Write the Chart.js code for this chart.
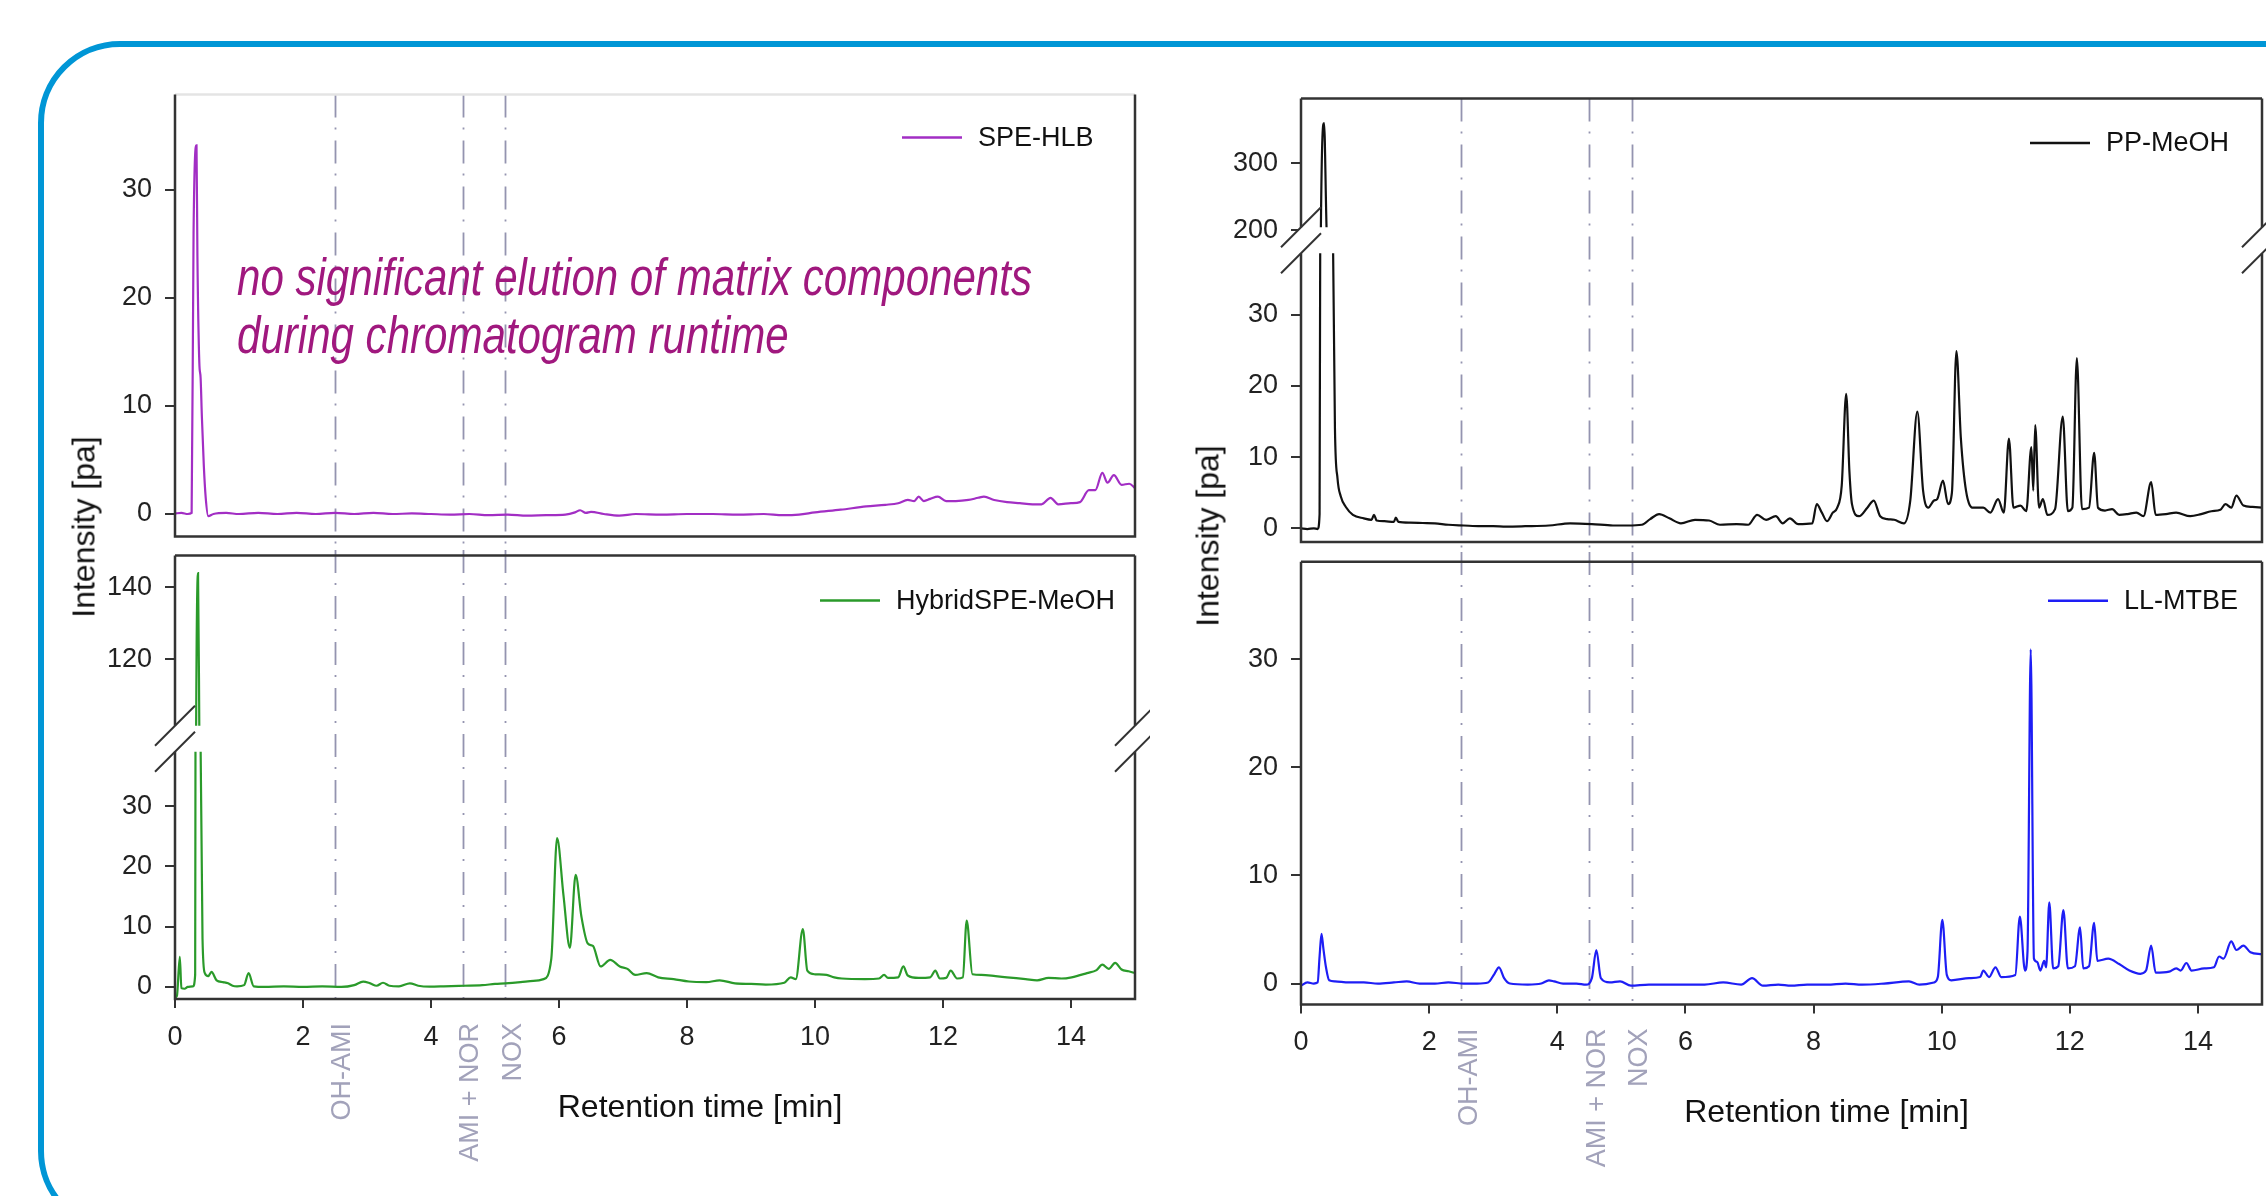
<!DOCTYPE html>
<html>
<head>
<meta charset="utf-8">
<script src="https://cdn.jsdelivr.net/npm/chart.js@4.4.1/dist/chart.umd.min.js"></script>
<style>
  html, body { margin: 0; padding: 0; background: #fff; }
  body { width: 2266px; height: 1196px; position: relative; overflow: hidden; font-family: "Liberation Sans", Arial, sans-serif; }
  .frame { position: absolute; left: 38px; top: 41px; width: 2420px; height: 1192px; box-sizing: border-box; border: 6px solid #0096d6; border-radius: 82px; }
  canvas { position: absolute; }
  .ytitle { position: absolute; font-size: 32px; color: #111; white-space: nowrap; transform: translate(-50%, -50%) rotate(-90deg); }
  #note { position: absolute; left: 237px; top: 249px; color: #a0187e; font-style: italic;
          font-family: "Liberation Sans Narrow", "Arial Narrow", "Liberation Sans", Arial, sans-serif;
          font-size: 51px; line-height: 58px; white-space: nowrap; transform-origin: 0 0; }
</style>
</head>
<body>
<div class="frame"></div>

<canvas id="hlbChart" width="1150" height="490" style="left:0;top:60px"></canvas>
<canvas id="hybridChart" width="1150" height="646" style="left:0;top:550px"></canvas>
<canvas id="ppChart" width="1116" height="492" style="left:1150px;top:60px"></canvas>
<canvas id="llChart" width="1116" height="644" style="left:1150px;top:552px"></canvas>

<div class="ytitle" style="left:84px;top:527px">Intensity [pa]</div>
<div class="ytitle" style="left:1208px;top:536px">Intensity [pa]</div>
<div id="note"><span id="noteLine1">no significant elution of matrix components</span><br>during chromatogram runtime</div>

<script>
const FONT = '"Liberation Sans", Arial, Helvetica, sans-serif';

// shared axis stuff
const xTicks = [0, 2, 4, 6, 8, 10, 12, 14];
const markerTimes = [2.5, 4.5, 5.16];
const markerNames = ['OH-AMI', 'AMI + NOR', 'NOX'];

// SPE-HLB (top left)
const hlbTime = [0, 0.1, 0.2, 0.26, 0.29, 0.336, 0.35, 0.38, 0.40, 0.42, 0.45, 0.48, 0.52, 0.6, 0.8, 1.0, 1.3, 1.6, 1.9, 2.2, 2.5, 2.8,
  3.1, 3.4, 3.7, 4.0, 4.3, 4.6, 4.9, 5.2, 5.5, 5.8, 6.1, 6.25, 6.33, 6.42, 6.5, 6.7, 6.94, 7.2, 7.6, 8.0, 8.4, 8.8, 9.2, 9.5, 9.75,
  10.0, 10.4, 10.8, 11.1, 11.3, 11.45, 11.55, 11.62, 11.7, 11.8, 11.92, 12.05, 12.2, 12.4, 12.55, 12.64, 12.8, 13.0, 13.2, 13.4,
  13.54, 13.68, 13.8, 14.0, 14.14, 14.28, 14.38, 14.49, 14.57, 14.67, 14.79, 14.91, 15.0];
const hlbValue = [0.05, 0.1, 0.0, 0.1, 26, 34.1, 24, 14, 12.6, 9, 4.5, 1.5, -0.2, 0.0, 0.1, 0.0, 0.1, 0.0, 0.1, 0.0, 0.1, 0.0,
  0.1, 0.0, 0.05, 0.0, -0.05, 0.0, -0.1, -0.05, -0.15, -0.1, -0.05, 0.15, 0.35, 0.1, 0.2, 0.0, -0.15, 0.0, -0.05, 0.0, 0.0, -0.05, 0.0, -0.1, -0.05,
  0.15, 0.4, 0.7, 0.85, 1.0, 1.3, 1.2, 1.6, 1.2, 1.4, 1.6, 1.2, 1.2, 1.3, 1.5, 1.6, 1.3, 1.1, 1.0, 0.9,
  0.9, 1.5, 0.9, 1.0, 1.1, 2.2, 2.2, 3.8, 2.9, 3.6, 2.7, 2.8, 2.4];

// HybridSPE-MeOH (bottom left)
const hybridTime = [0, 0.03, 0.075, 0.1, 0.15, 0.2, 0.28, 0.315, 0.32, 0.33, 0.36, 0.38, 0.40, 0.43, 0.466, 0.52, 0.57, 0.65, 0.75,
  0.83, 0.9, 0.97, 1.08, 1.15, 1.23, 1.4, 1.7, 2.0, 2.3, 2.6, 2.8, 2.94, 3.05, 3.15, 3.25, 3.35, 3.5, 3.67, 3.8, 3.98, 4.2, 4.51,
  4.8, 5.0, 5.16, 5.4, 5.6, 5.76, 5.88, 5.97, 6.07, 6.17, 6.26, 6.35, 6.45, 6.53, 6.65, 6.8, 6.95, 7.07, 7.19, 7.37, 7.55, 7.79,
  8.03, 8.3, 8.51, 8.75, 9.0, 9.23, 9.52, 9.62, 9.70, 9.81, 9.88, 10.0, 10.18, 10.3, 10.42, 10.78, 11.0, 11.08, 11.14, 11.3, 11.38,
  11.45, 11.62, 11.8, 11.88, 11.95, 12.05, 12.12, 12.22, 12.31, 12.37, 12.46, 12.6, 12.82, 13.0, 13.29, 13.47, 13.65, 13.85,
  14.01, 14.25, 14.4, 14.49, 14.59, 14.69, 14.79, 14.9, 15.0];
const hybridValue = [-1.8, -1.5, 5.0, -0.2, -0.3, 0.0, 0.1, 2, 40, 100, 143.9, 100, 40, 8, 2.3, 1.8, 2.5, 1.1, 0.8,
  0.6, 0.2, 0.1, 0.3, 2.3, 0.1, 0.0, 0.1, 0.0, 0.1, 0.0, 0.3, 0.9, 0.6, 0.2, 0.7, 0.2, 0.1, 0.6, 0.2, 0.05, 0.1, 0.2,
  0.3, 0.5, 0.6, 0.8, 1.0, 1.3, 4.7, 24.7, 15.2, 6.5, 18.6, 11.7, 7.2, 6.8, 3.4, 4.5, 3.4, 3.0, 2.0, 2.3, 1.6, 1.3,
  0.9, 0.8, 1.1, 0.6, 0.5, 0.4, 0.7, 1.6, 1.3, 9.6, 2.7, 2.1, 2.0, 1.6, 1.4, 1.3, 1.4, 2.0, 1.5, 1.6, 3.4,
  1.9, 1.5, 1.6, 2.7, 1.4, 1.5, 2.7, 1.4, 1.6, 11.0, 2.1, 2.0, 1.8, 1.6, 1.3, 1.1, 1.5, 1.4,
  1.6, 2.3, 2.8, 3.7, 3.0, 4.0, 2.9, 2.6, 2.3];

// PP-MeOH (top right)
const ppTime = [0, 0.1, 0.2, 0.26, 0.29, 0.30, 0.31, 0.36, 0.40, 0.50, 0.53, 0.57, 0.62, 0.7, 0.81, 0.98, 1.1, 1.14, 1.18, 1.3,
  1.45, 1.48, 1.52, 1.7, 1.9, 2.09, 2.3, 2.54, 2.8, 3.0, 3.2, 3.5, 3.87, 4.2, 4.54, 4.87, 5.1, 5.32, 5.45, 5.59, 5.75, 5.93,
  6.15, 6.37, 6.54, 6.8, 6.98, 7.12, 7.26, 7.41, 7.52, 7.63, 7.76, 7.98, 8.05, 8.13, 8.21, 8.30, 8.37, 8.44, 8.51, 8.56, 8.60,
  8.71, 8.84, 8.94, 9.04, 9.15, 9.26, 9.41, 9.51, 9.62, 9.71, 9.79, 9.88, 9.93, 10.02, 10.10, 10.16, 10.23, 10.30, 10.38, 10.49,
  10.65, 10.76, 10.88, 10.97, 11.05, 11.12, 11.23, 11.32, 11.40, 11.43, 11.46, 11.52, 11.58, 11.65, 11.77, 11.89, 11.97, 12.04,
  12.11, 12.19, 12.30, 12.38, 12.44, 12.55, 12.66, 12.77, 12.9, 13.04, 13.15, 13.27, 13.34, 13.5, 13.66, 13.88, 14.05, 14.21,
  14.35, 14.43, 14.52, 14.60, 14.71, 14.85, 15.0];
const ppValue = [0, -0.1, 0.0, -0.1, 2, 40, 200, 360, 200, 40, 14, 7, 4.5, 3, 1.9, 1.4, 1.2, 1.9, 1.1, 1.0,
  0.9, 1.5, 0.9, 0.8, 0.75, 0.7, 0.5, 0.4, 0.3, 0.3, 0.25, 0.3, 0.4, 0.7, 0.6, 0.4, 0.4, 0.5, 1.3, 2.0, 1.4, 0.7,
  1.2, 1.1, 0.5, 0.6, 0.5, 1.9, 1.2, 1.7, 0.7, 1.4, 0.6, 0.7, 3.4, 2.2, 1.0, 2.2, 2.9, 6, 18.9, 8, 3.4,
  1.7, 2.9, 3.9, 1.7, 1.3, 1.2, 0.7, 3.9, 16.4, 5.3, 2.9, 3.9, 4.1, 6.7, 3.4, 5, 24.9, 12.6, 5.3, 2.9,
  2.9, 2.2, 4.1, 2.2, 12.6, 2.9, 3.2, 2.4, 11.4, 5.3, 14.5, 2.9, 4.1, 1.9, 2.7, 15.7, 2.4, 2.9,
  23.9, 2.7, 2.9, 10.6, 2.9, 2.5, 2.7, 1.9, 2.0, 2.2, 1.7, 6.5, 1.9, 2.0, 2.2, 1.7, 2.0, 2.4,
  2.6, 3.4, 2.9, 4.6, 3.2, 3.0, 2.9];

// LL-MTBE (bottom right)
const llTime = [0, 0.1, 0.2, 0.26, 0.29, 0.32, 0.35, 0.39, 0.44, 0.53, 0.75, 0.98, 1.2, 1.45, 1.65, 1.85, 2.09, 2.3, 2.54, 2.75,
  2.92, 3.02, 3.09, 3.17, 3.26, 3.54, 3.75, 3.87, 3.95, 4.09, 4.3, 4.45, 4.54, 4.61, 4.68, 4.82, 4.98, 5.15, 5.43, 5.7, 5.98,
  6.3, 6.59, 6.87, 7.04, 7.21, 7.45, 7.65, 7.9, 8.21, 8.5, 8.76, 9.1, 9.49, 9.65, 9.88, 9.94, 10.01, 10.08, 10.15, 10.43, 10.6,
  10.65, 10.74, 10.84, 10.93, 11.15, 11.22, 11.30, 11.34, 11.39, 11.44, 11.49, 11.54, 11.60, 11.63, 11.68, 11.74, 11.82, 11.90,
  11.97, 12.08, 12.16, 12.21, 12.30, 12.38, 12.43, 12.60, 12.77, 12.93, 13.10, 13.19, 13.27, 13.34, 13.55, 13.66, 13.73, 13.82,
  13.90, 14.10, 14.25, 14.33, 14.40, 14.52, 14.60, 14.71, 14.82, 15.0];
const llValue = [-0.2, 0.1, 0.0, 0.1, 2.5, 4.6, 3.2, 1.5, 0.3, 0.2, 0.1, 0.1, 0.0, 0.1, 0.2, 0.0, 0.0, 0.1, 0.0, 0.0,
  0.1, 0.9, 1.5, 0.5, 0.0, -0.1, 0.0, 0.3, 0.2, 0.0, 0.0, -0.1, 0.5, 3.1, 0.5, 0.1, 0.2, -0.2, -0.1, -0.1, -0.1,
  -0.1, 0.1, -0.1, 0.5, -0.2, -0.1, -0.2, -0.1, -0.1, 0.0, -0.1, 0.0, 0.2, -0.1, 0.1, 0.6, 5.9, 0.8, 0.3, 0.5, 0.6,
  1.2, 0.6, 1.5, 0.6, 0.8, 6.2, 1.2, 3.0, 30.9, 2.3, 2.0, 1.2, 2.1, 1.5, 7.5, 1.4, 1.6, 6.8,
  1.4, 1.6, 5.2, 1.4, 1.6, 5.6, 2.1, 2.3, 1.8, 1.2, 0.9, 1.2, 3.5, 1.0, 1.1, 1.4, 1.2, 1.9,
  1.2, 1.4, 1.5, 2.5, 2.3, 3.9, 3.1, 3.5, 2.9, 2.7];

// y tick values per axis segment
const hlbTicks = [0, 10, 20, 30];
const hybridHighTicks = [120, 140];
const hybridLowTicks = [0, 10, 20, 30];
const ppHighTicks = [200, 300];
const ppLowTicks = [0, 10, 20, 30];
const llTicks = [0, 10, 20, 30];

const toPoints = (t, v) => t.map((x, i) => ({ x: x, y: v[i] }));

// markers, break marks, frame, legend, labels
const decor = {
  id: 'decor',
  beforeDatasetsDraw(chart, args, o) {
    const { ctx, chartArea: a } = chart;
    const xs = chart.scales.x;
    const y0 = o.extendTop ? 0 : a.top;
    const y1 = o.extendBottom ? chart.height : a.bottom;
    ctx.save();
    ctx.strokeStyle = '#9494b0';
    ctx.lineWidth = 1.8;
    ctx.setLineDash([23, 10, 2, 11]);
    markerTimes.forEach(t => {
      const px = Math.round(xs.getPixelForValue(t)) + 0.5;
      ctx.beginPath();
      ctx.moveTo(px, y0);
      ctx.lineTo(px, y1);
      ctx.stroke();
    });
    ctx.restore();
  },
  beforeDatasetDraw(chart, args) {
    const ds = chart.data.datasets[args.index];
    if (!ds.gap) return;
    const s = chart.scales[ds.yAxisID];
    const a = chart.chartArea;
    let top = s.top, bottom = s.bottom;
    if (ds.gap === 'upper') bottom -= 13; else top += 13;
    chart.ctx.save();
    chart.ctx.beginPath();
    chart.ctx.rect(a.left, top, a.right - a.left, bottom - top);
    chart.ctx.clip();
  },
  afterDatasetDraw(chart, args) {
    if (chart.data.datasets[args.index].gap) chart.ctx.restore();
  },
  afterDraw(chart, args, o) {
    const { ctx, chartArea: a } = chart;
    ctx.save();

    // panel box
    ctx.lineWidth = 2.5;
    ctx.strokeStyle = o.topColor || '#333';
    ctx.beginPath(); ctx.moveTo(a.left, a.top); ctx.lineTo(a.right, a.top); ctx.stroke();
    ctx.strokeStyle = '#333';
    ctx.beginPath();
    ctx.moveTo(a.left, a.top); ctx.lineTo(a.left, a.bottom); ctx.lineTo(a.right, a.bottom); ctx.lineTo(a.right, a.top);
    ctx.stroke();

    // broken axis marks
    if (o.breakAxis) {
      const b = chart.scales[o.breakAxis].bottom;
      [a.left, a.right].forEach(ex => {
        ctx.fillStyle = '#fff';
        ctx.fillRect(ex - 3, b - 13, 6, 26);
        ctx.lineWidth = 2;
        ctx.strokeStyle = '#333';
        ctx.beginPath();
        [b - 13, b + 13].forEach(cy => { ctx.moveTo(ex - 20, cy + 20); ctx.lineTo(ex + 20, cy - 20); });
        ctx.stroke();
      });
    }

    // legend
    const lg = o.legend;
    const ly = a.top + lg.y;
    ctx.strokeStyle = lg.color;
    ctx.lineWidth = 2.5;
    ctx.beginPath(); ctx.moveTo(a.left + lg.x, ly); ctx.lineTo(a.left + lg.x + 60, ly); ctx.stroke();
    ctx.fillStyle = '#111';
    ctx.font = '27px ' + FONT;
    ctx.textAlign = 'left';
    ctx.textBaseline = 'middle';
    ctx.fillText(lg.text, a.left + lg.x + 76, ly + 1);

    // compound labels + x title
    if (o.axisLabels) {
      const xs = chart.scales.x;
      ctx.fillStyle = '#a2a2ba';
      ctx.font = '27px ' + FONT;
      markerTimes.forEach((t, i) => {
        ctx.save();
        ctx.translate(xs.getPixelForValue(t) + 8, a.bottom + 24);
        ctx.rotate(-Math.PI / 2);
        ctx.textAlign = 'right';
        ctx.textBaseline = 'middle';
        ctx.fillText(markerNames[i], 0, 0);
        ctx.restore();
      });
      ctx.fillStyle = '#111';
      ctx.font = '32px ' + FONT;
      ctx.textAlign = 'center';
      ctx.textBaseline = 'alphabetic';
      ctx.fillText('Retention time [min]', (a.left + a.right) / 2 + 45, a.bottom + 118);
    }
    ctx.restore();
  }
};

// labels must not push the plot area around
function noPad(s) {
  s.paddingTop = 0;
  s.paddingBottom = 0;
  s.paddingLeft = 0;
  s.paddingRight = 0;
}

function yAxis(min, max, ticks, width, extra) {
  return Object.assign({
    type: 'linear',
    position: 'left',
    min: min,
    max: max,
    afterBuildTicks: s => { s.ticks = ticks.map(v => ({ value: v })); },
    afterFit: s => { s.width = width; noPad(s); },
    grid: { drawOnChartArea: false, drawTicks: true, tickLength: 10, color: '#333', lineWidth: 2 },
    border: { display: false },
    ticks: { color: '#222', font: { size: 27, family: FONT }, padding: 13 }
  }, extra || {});
}

function xAxis(show, height) {
  return {
    type: 'linear',
    min: 0,
    max: 15,
    display: show,
    afterBuildTicks: s => { s.ticks = xTicks.map(v => ({ value: v })); },
    afterFit: s => { s.height = height; noPad(s); },
    grid: { drawOnChartArea: false, drawTicks: true, tickLength: 9, color: '#333', lineWidth: 2 },
    border: { display: false },
    ticks: { color: '#222', font: { size: 27, family: FONT }, padding: 13, maxRotation: 0 }
  };
}

function line(points, color, axis, gap) {
  return {
    data: points,
    yAxisID: axis,
    gap: gap,
    borderColor: color,
    borderWidth: 2.2,
    pointRadius: 0,
    cubicInterpolationMode: 'monotone',
    fill: false
  };
}

function makeChart(id, datasets, scales, padding, decorOpts) {
  return new Chart(document.getElementById(id), {
    type: 'line',
    data: { datasets: datasets },
    options: {
      responsive: false,
      animation: false,
      layout: { padding: padding },
      scales: scales,
      plugins: { legend: { display: false }, tooltip: { enabled: false }, decor: decorOpts }
    },
    plugins: [decor]
  });
}

const hlbColor = '#a22ec4';
const hybridColor = '#2a9a2a';
const ppColor = '#111111';
const llColor = '#1e1ef5';

makeChart('hlbChart',
  [line(toPoints(hlbTime, hlbValue), hlbColor, 'y')],
  { x: xAxis(false, 0), y: yAxis(-2.08, 38.8, hlbTicks, 175) },
  { left: 0, right: 15, top: 34.5, bottom: 13.5 },
  { extendBottom: true, topColor: '#e4e4e4', legend: { text: 'SPE-HLB', color: hlbColor, x: 727, y: 43 } });

const hybridPts = toPoints(hybridTime, hybridValue);
makeChart('hybridChart',
  [line(hybridPts, hybridColor, 'yHigh', 'upper'), line(hybridPts, hybridColor, 'yLow', 'lower')],
  {
    x: xAxis(true, 197),
    yHigh: yAxis(97.9, 148.8, hybridHighTicks, 175, { stack: 'v', stackWeight: 183.2, weight: 2 }),
    yLow: yAxis(-2.0, 41.2, hybridLowTicks, 175, { stack: 'v', stackWeight: 260.3, weight: 1 })
  },
  { left: 0, right: 15, top: 5.5, bottom: 0 },
  { extendTop: true, axisLabels: true, breakAxis: 'yHigh', legend: { text: 'HybridSPE-MeOH', color: hybridColor, x: 645, y: 45 } });

const ppPts = toPoints(ppTime, ppValue);
makeChart('ppChart',
  [line(ppPts, ppColor, 'yHigh', 'upper'), line(ppPts, ppColor, 'yLow', 'lower')],
  {
    x: xAxis(false, 0),
    yHigh: yAxis(185.4, 396.3, ppHighTicks, 151, { stack: 'v', stackWeight: 141.7, weight: 2 }),
    yLow: yAxis(-1.92, 40.45, ppLowTicks, 151, { stack: 'v', stackWeight: 301.7, weight: 1 })
  },
  { left: 0, right: 4, top: 38.6, bottom: 10 },
  { extendBottom: true, breakAxis: 'yHigh', legend: { text: 'PP-MeOH', color: ppColor, x: 729, y: 44.4 } });

makeChart('llChart',
  [line(toPoints(llTime, llValue), llColor, 'y')],
  { x: xAxis(true, 191.6), y: yAxis(-1.93, 39.0, llTicks, 151) },
  { left: 0, right: 4, top: 9.8, bottom: 0 },
  { extendTop: true, axisLabels: true, legend: { text: 'LL-MTBE', color: llColor, x: 747, y: 39 } });

// squeeze the note to the width it has in the figure
function fitNote() {
  const note = document.getElementById('note');
  note.style.transform = 'none';
  const w = document.getElementById('noteLine1').getBoundingClientRect().width;
  if (w > 0) note.style.transform = 'scaleX(' + (795 / w) + ')';
}
fitNote();
if (document.fonts) document.fonts.ready.then(fitNote);
</script>
</body>
</html>
